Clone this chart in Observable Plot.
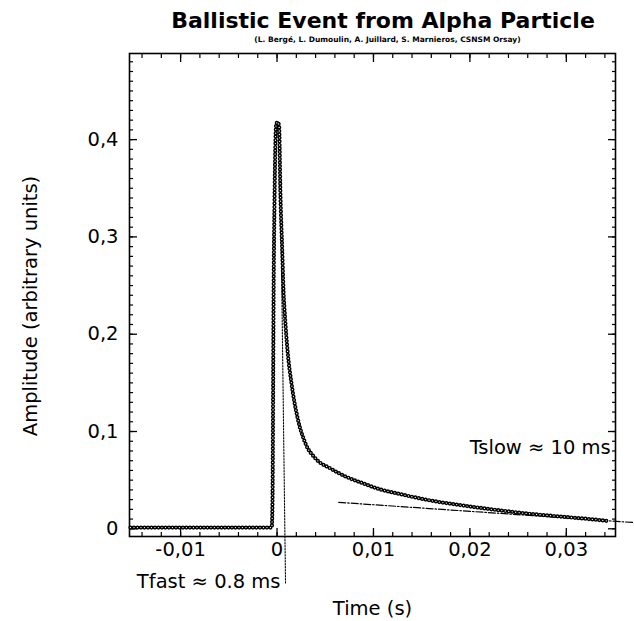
<!DOCTYPE html>
<html><head><meta charset="utf-8">
<script src="https://cdn.jsdelivr.net/npm/d3@7"></script>
<script src="https://cdn.jsdelivr.net/npm/@observablehq/plot@0.6"></script>
<style>
body{margin:0;background:#fff;}
#chart{width:634px;height:621px;}
</style></head><body><div id="chart"></div>
<script>
// Measured pulse (time in s, amplitude in arbitrary units)
const time = [-0.0152, -0.008, -0.00055, -0.00047, -0.00041, -0.00036, -0.00026, -0.0001, 0.00005, 0.00021, 0.00036, 0.00054, 0.00067, 0.00083, 0.00109, 0.0015, 0.00212, 0.00295, 0.00399, 0.00554, 0.0071, 0.00896, 0.01073, 0.01249, 0.01435, 0.01591, 0.01933, 0.02244, 0.02596, 0.02938, 0.0328, 0.03435];
const amplitude = [0.0013, 0.0013, 0.0013, 0.0291, 0.132, 0.235, 0.337, 0.4145, 0.418, 0.4145, 0.3405, 0.286, 0.245, 0.217, 0.183, 0.1494, 0.1144, 0.0877, 0.0723, 0.062, 0.0538, 0.0466, 0.0404, 0.0363, 0.0322, 0.0291, 0.0239, 0.0198, 0.0157, 0.0126, 0.0096, 0.008];
// Fits
const slowFitTime = [0.0064, 0.0369];
const slowFitAmp = [0.0272, 0.0065];
const fastFitTime = [0.0004, 0.00088];
const fastFitAmp = [0.322, -0.0562];
// Annotations
const annotationText = ["Tslow \u2248 10 ms", "Tfast \u2248 0.8 ms"];
const annotationX = [0.0346, 0.00036];
const annotationY = [0.0836, -0.054];
// Ticks
const xTicks = [-0.01, 0, 0.01, 0.02, 0.03];
const yTicks = [0, 0.1, 0.2, 0.3, 0.4];
const xMinor = d3.range(-14, 35, 2).map(d => d / 1000);
const yMinor = d3.range(0, 49, 1).map(d => d / 100);
const titleText = "Ballistic Event from Alpha Particle";
const subtitleText = "(L. Berg\u00e9, L. Dumoulin, A. Juillard, S. Marnieros, CSNSM Orsay)";
const xLabel = "Time (s)";
const yLabel = "Amplitude (arbitrary units)";

const pulse = time.map((t, i) => ({t, a: amplitude[i]}));
const slowFit = slowFitTime.map((t, i) => ({t, a: slowFitAmp[i]}));
const fastFit = fastFitTime.map((t, i) => ({t, a: fastFitAmp[i]}));
const notes = annotationText.map((s, i) => ({s, x: annotationX[i], y: annotationY[i]}));
const fmt = d => d === 0 ? "0" : String(+d.toFixed(2)).replace(".", ",");

const chart = Plot.plot({
  width: 634, height: 621,
  marginLeft: 129, marginRight: 19, marginTop: 53, marginBottom: 85,
  style: {fontFamily: '"DejaVu Sans", sans-serif', fontSize: "19.5px", color: "#000", background: "#fff", overflow: "visible"},
  x: {domain: [-0.0153, 0.0351]},
  y: {domain: [-0.0079, 0.4885]},
  marks: [
    Plot.axisX({ticks: xMinor, anchor: "bottom", tickSize: -4, fill: "none", label: null, strokeWidth: 1.2}),
    Plot.axisX({ticks: xMinor, anchor: "top", tickSize: -4, fill: "none", label: null, strokeWidth: 1.2}),
    Plot.axisY({ticks: yMinor, anchor: "left", tickSize: -4, fill: "none", label: null, strokeWidth: 1.2}),
    Plot.axisY({ticks: yMinor, anchor: "right", tickSize: -4, fill: "none", label: null, strokeWidth: 1.2}),
    Plot.axisX({ticks: xTicks, anchor: "bottom", tickSize: -8, tickPadding: 14, tickFormat: fmt, label: null, strokeWidth: 1.3, fontSize: 19.5}),
    Plot.axisX({ticks: xTicks, anchor: "top", tickSize: -8, fill: "none", label: null, strokeWidth: 1.3}),
    Plot.axisY({ticks: yTicks, anchor: "left", tickSize: -8, tickPadding: 19, tickFormat: fmt, label: null, strokeWidth: 1.3, fontSize: 19.5}),
    Plot.axisY({ticks: yTicks, anchor: "right", tickSize: -8, fill: "none", label: null, strokeWidth: 1.3}),
    Plot.frame({stroke: "#000", strokeWidth: 1.6}),
    Plot.line(fastFit, {x: "t", y: "a", stroke: "#000", strokeWidth: 1.1, strokeDasharray: "1.5 1.5"}),
    Plot.line(slowFit, {x: "t", y: "a", stroke: "#000", strokeWidth: 1.2, strokeDasharray: "7 2 1.5 2"}),
    Plot.line(pulse, {x: "t", y: "a", curve: "monotone-x", stroke: "#000", strokeWidth: 4.2, strokeDasharray: "0 3.5", strokeLinecap: "round"}),
    Plot.line(pulse, {x: "t", y: "a", curve: "monotone-x", stroke: "#fff", strokeWidth: 1.3, strokeDasharray: "0 3.5", strokeLinecap: "round"}),
    Plot.text(notes, {x: "x", y: "y", text: "s", textAnchor: "end", fontSize: 19.5}),
    Plot.text([titleText], {frameAnchor: "top", dx: 10.5, dy: -33, lineAnchor: "middle", fontWeight: "bold", fontSize: 22}),
    Plot.text([subtitleText], {frameAnchor: "top", dx: 15, dy: -14, lineAnchor: "middle", fontWeight: "bold", fontSize: 7.5}),
    Plot.text([xLabel], {frameAnchor: "bottom", dy: 72, lineAnchor: "middle", fontSize: 19.5}),
    Plot.text([yLabel], {frameAnchor: "left", dx: -99, dy: 11, rotate: -90, textAnchor: "middle", lineAnchor: "middle", fontSize: 19.5})
  ]
});
document.getElementById("chart").appendChild(chart);
</script></body></html>
